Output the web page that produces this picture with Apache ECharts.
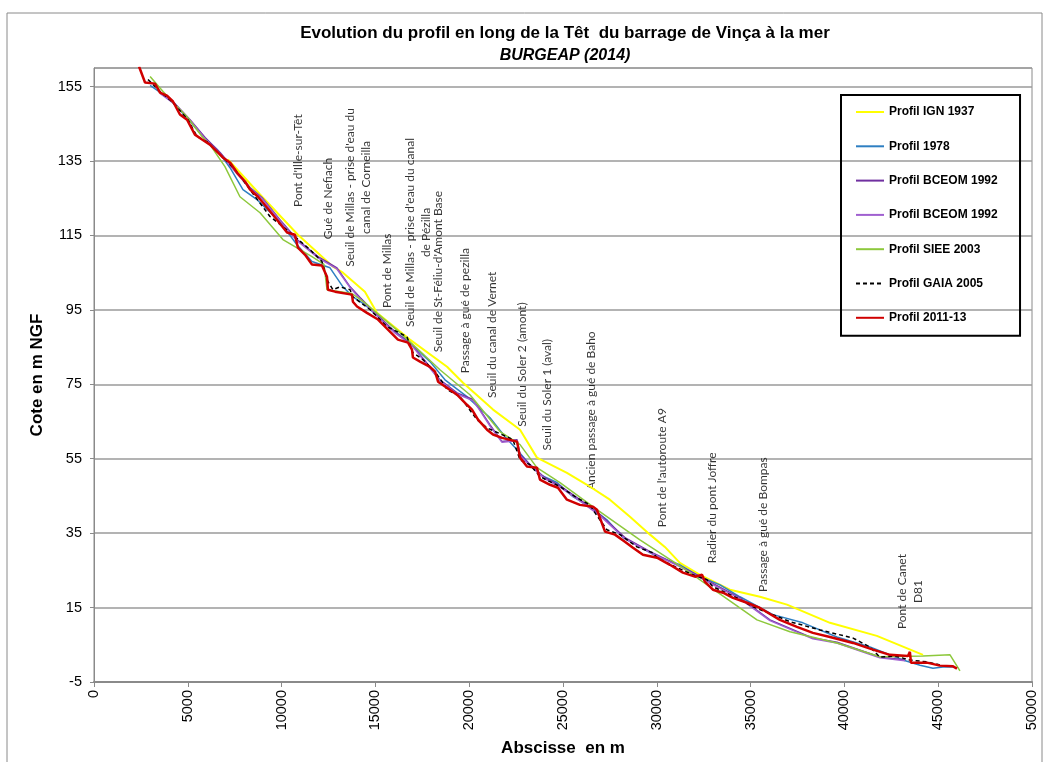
<!DOCTYPE html>
<html>
<head>
<meta charset="utf-8">
<title>Profil en long de la Têt</title>
<script src="https://cdn.jsdelivr.net/npm/echarts@6/dist/echarts.min.js"></script>
<style>
  html, body { margin: 0; padding: 0; background: #fff; }
  #chart { width: 1051px; height: 762px; }
</style>
</head>
<body>
<div id="chart"></div>
<script>
// Profil IGN 1937
const ignX = [7140, 8850, 10870, 12740, 13270, 14440, 15080, 16840, 18820, 19670, 21270, 22710, 23610, 25210, 26280, 27500, 28570, 29640, 30430, 31230, 32300, 33900, 35500, 36940, 39230, 41730, 44190];
const ignY = [135.4, 126.0, 115.2, 106.6, 105.0, 99.9, 94.2, 87.0, 79.7, 75.4, 68.2, 62.8, 55.3, 51.2, 48.0, 44.0, 39.4, 34.6, 31.3, 27.0, 23.8, 19.8, 17.9, 15.8, 10.9, 7.4, 2.3];
// Profil 1978
const p1978X = [2990, 3780, 4420, 5120, 5810, 6560, 7250, 7940, 8690, 9910, 10820, 11620, 12580, 13270, 13800, 14440, 15780, 16840, 17910, 18710, 19880, 21110, 21910, 22550, 23240, 23770, 24680, 25530, 26440, 27340, 28200, 29100, 30010, 31230, 32300, 33370, 34430, 36190, 37790, 39600, 41360, 43120, 44030, 44720, 45250, 45890];
const p1978Y = [155.3, 152.6, 149.6, 145.6, 141.6, 138.1, 133.2, 127.3, 124.6, 118.7, 112.5, 108.0, 106.3, 101.2, 98.5, 96.4, 90.2, 86.2, 81.1, 76.2, 71.7, 66.0, 60.9, 57.4, 53.4, 50.7, 48.6, 44.8, 42.1, 38.6, 33.8, 31.3, 28.7, 26.5, 23.3, 21.1, 17.9, 13.1, 10.9, 7.1, 4.4, 0.9, -0.5, -1.3, -1.0, -1.0];
// Profil BCEOM 1992 (a)
const bceomAX = [3520, 4320, 5120, 5920, 6720, 7620, 8320, 8950, 9910, 10820, 11940, 12950, 13650, 14180, 14980, 16040, 16950, 17800, 18440, 19350, 20200, 20570, 21110, 21750, 22550, 22710, 23240, 24040, 24840, 25900, 26970, 28300, 29640, 31230, 32830, 34430, 36030, 38320, 39600, 41890, 43230];
const bceomAY = [153.4, 150.4, 146.1, 141.3, 137.3, 131.9, 127.9, 125.2, 119.2, 113.9, 109.3, 106.3, 101.2, 98.3, 94.2, 89.1, 85.6, 80.3, 76.2, 72.7, 70.9, 68.2, 64.1, 59.6, 60.1, 56.1, 53.4, 49.9, 47.7, 44.0, 40.0, 33.8, 30.0, 26.2, 21.9, 17.6, 11.7, 6.8, 5.7, 1.7, 0.9];
// Profil BCEOM 1992 (b)
const bceomBX = [3520, 4320, 5120, 5920, 6720, 7620, 8320, 8950, 9910, 10820, 11940, 12950, 13650, 14180, 14980, 16040, 16950, 17800, 18440, 19350, 20200, 20570, 21110, 21750, 22550, 22710, 23240, 24040, 24840, 25900, 26970, 28300, 29640, 31230, 32830, 34430, 36030, 38320, 39600, 41890, 43230];
const bceomBY = [153.2, 150.2, 146.0, 141.0, 137.0, 131.6, 127.6, 125.0, 119.0, 113.6, 109.0, 106.0, 101.0, 98.0, 94.0, 88.8, 85.4, 80.0, 76.0, 72.4, 70.6, 68.0, 63.8, 59.4, 59.8, 55.8, 53.2, 49.6, 47.4, 43.7, 39.7, 33.5, 29.8, 26.0, 21.6, 17.4, 11.5, 6.6, 5.5, 1.5, 0.7];
// Profil SIEE 2003
const sieeX = [2990, 3680, 4210, 4960, 5760, 6180, 6980, 7780, 8850, 10070, 10980, 11620, 12260, 12420, 13750, 14440, 16310, 18440, 20040, 21640, 22710, 23610, 24840, 26810, 29100, 31390, 33210, 35340, 37100, 39600, 41890, 44190, 45630, 46160];
const sieeY = [157.7, 153.7, 150.7, 146.9, 141.6, 139.4, 133.5, 125.4, 121.1, 113.9, 111.2, 109.3, 107.2, 100.4, 99.4, 96.9, 88.9, 78.9, 72.2, 62.3, 58.8, 52.6, 48.6, 41.3, 33.2, 25.7, 19.2, 11.7, 8.5, 5.5, 1.8, 2.0, 2.3, -2.0];
// Profil GAIA 2005
const gaiaX = [2880, 3520, 4210, 5010, 5490, 6080, 6880, 7520, 8320, 9380, 10450, 11510, 12150, 12470, 12740, 13110, 13650, 13800, 14710, 15620, 16680, 17000, 17540, 18180, 18600, 18820, 19510, 20410, 20950, 22010, 22330, 22710, 23240, 23770, 24840, 25740, 26440, 26700, 27340, 28040, 28940, 29800, 30010, 30970, 31930, 32670, 32990, 34270, 35130, 36190, 37100, 38700, 40460, 41360, 41890, 42690, 43490, 44400, 45090];
const gaiaY = [156.9, 153.7, 150.7, 146.1, 141.6, 140.0, 135.9, 132.7, 127.3, 120.1, 115.8, 111.2, 108.0, 102.6, 100.4, 101.2, 100.4, 98.5, 95.1, 90.5, 87.8, 83.5, 81.6, 78.4, 75.4, 73.6, 71.7, 65.5, 63.3, 60.9, 60.1, 54.7, 53.4, 50.2, 47.5, 44.5, 42.6, 40.5, 35.9, 34.6, 31.3, 29.7, 28.4, 26.0, 23.8, 22.5, 20.6, 17.6, 15.2, 13.1, 11.2, 9.0, 6.8, 4.4, 1.7, 2.0, 0.9, 0.4, -0.4];
// Profil 2011-13
const p2011X = [2400, 2720, 3250, 3520, 3890, 4210, 4580, 4960, 5380, 5760, 6180, 6880, 7250, 7620, 8050, 8320, 8740, 9220, 9750, 10290, 10710, 10870, 11250, 11620, 12150, 12420, 12470, 12850, 13750, 13800, 14020, 14550, 15140, 15670, 16200, 16740, 16950, 17000, 17380, 17910, 18180, 18340, 18710, 19350, 19880, 20150, 20470, 20950, 21270, 21750, 22550, 22710, 23080, 23610, 23770, 24310, 24730, 25210, 25900, 26600, 26810, 27240, 27770, 28300, 28730, 29260, 30010, 30700, 31390, 32030, 32410, 32570, 32990, 33530, 34060, 34810, 35500, 36560, 37470, 38320, 39230, 40460, 41520, 42430, 43390, 43490, 43550, 44400, 45090, 45790, 46000];
const p2011Y = [160.4, 156.1, 155.8, 153.4, 152.6, 151.0, 147.5, 146.1, 142.1, 140.8, 139.4, 135.9, 134.6, 131.9, 129.5, 127.3, 125.4, 122.5, 119.2, 115.8, 115.2, 111.7, 109.8, 107.2, 106.9, 103.9, 100.4, 99.9, 99.1, 97.2, 95.9, 94.2, 92.4, 89.7, 87.0, 86.2, 84.3, 82.2, 81.1, 79.7, 78.4, 75.7, 74.4, 72.2, 69.5, 68.2, 65.5, 62.8, 61.5, 60.6, 59.6, 55.3, 52.9, 52.6, 49.4, 48.0, 47.2, 44.0, 42.6, 42.1, 41.3, 35.4, 34.6, 32.7, 31.1, 29.2, 28.4, 26.5, 24.4, 23.3, 23.8, 21.9, 19.8, 19.0, 17.6, 16.3, 14.9, 11.7, 9.8, 8.2, 7.1, 5.5, 3.7, 2.3, 2.0, 3.1, 0.2, 0.2, -0.6, -0.8, -1.4];

// Ouvrages (centre du texte)
const ouvrageNames = [
  "Pont d'Ille-sur-Têt",
  "Gué de Nefiach",
  "Seuil de Millas - prise d'eau du\ncanal de Corneilla",
  "Pont de Millas",
  "Seuil de Millas - prise d'eau du canal\nde Pézilla",
  "Seuil de St-Féliu-d'Amont Base",
  "Passage à gué de pezilla",
  "Seuil du canal de Vernet",
  "Seuil du Soler 2 (amont)",
  "Seuil du Soler 1 (aval)",
  "Ancien passage à gué de Baho",
  "Pont de l'autoroute A9",
  "Radier du pont Joffre",
  "Passage à gué de Bompas",
  "Pont de Canet\nD81"
];
const ouvrageX = [10870, 12470, 14070, 15620, 17270, 18340, 19770, 21210, 22810, 24150, 26490, 30270, 32940, 35660, 43490];
const ouvrageY = [135.1, 124.9, 127.9, 105.5, 115.8, 105.3, 94.8, 88.3, 80.3, 72.2, 67.9, 52.6, 41.8, 37.3, 19.3];

const legendNames = ["Profil IGN 1937", "Profil 1978", "Profil BCEOM 1992", "Profil BCEOM 1992 ", "Profil SIEE 2003", "Profil GAIA 2005", "Profil 2011-13"];

const pairs = (xs, ys) => xs.map((x, i) => [x, ys[i]]);

function profil(name, xs, ys, color, width, type) {
  return {
    name: name,
    type: "line",
    data: pairs(xs, ys),
    symbol: "none",
    lineStyle: { color: color, width: width, type: type || "solid" },
    itemStyle: { color: color },
    animation: false
  };
}

const chart = echarts.init(document.getElementById("chart"));
chart.setOption({
  backgroundColor: "#fff",
  title: [
    {
      text: "Evolution du profil en long de la Têt  du barrage de Vinça à la mer",
      left: 560, top: 20, textAlign: "center",
      textStyle: { fontFamily: "Liberation Sans", fontSize: 17, fontWeight: "bold", color: "#000" }
    },
    {
      text: "BURGEAP (2014)",
      left: 560, top: 43, textAlign: "center",
      textStyle: { fontFamily: "Liberation Sans", fontSize: 16, fontWeight: "bold", fontStyle: "italic", color: "#000" }
    }
  ],
  graphic: [
    {
      type: "rect",
      shape: { x: 7, y: 13, width: 1035, height: 770 },
      style: { fill: "none", stroke: "#8a8a8a", lineWidth: 1 },
      silent: true
    }
  ],
  grid: {
    left: 94, right: 19, top: 68, bottom: 80,
    show: true, borderColor: "#8a8a8a", borderWidth: 1
  },
  legend: {
    data: legendNames,
    orient: "vertical",
    left: 841, top: 95,
    itemWidth: 28, itemHeight: 14, itemGap: 22.3,
    padding: [11, 19, 12, 14],
    borderColor: "#000", borderWidth: 2,
    selectedMode: false,
    itemStyle: { opacity: 0 },
    textStyle: { fontFamily: "Liberation Sans", fontSize: 12, fontWeight: "bold", color: "#000" }
  },
  xAxis: {
    type: "value",
    min: 0, max: 50000, interval: 5000,
    name: "Abscisse  en m",
    nameLocation: "middle", nameGap: 58,
    nameTextStyle: { fontFamily: "Liberation Sans", fontSize: 17, fontWeight: "bold", color: "#000" },
    axisLine: { onZero: false, lineStyle: { color: "#8a8a8a", width: 2 } },
    axisTick: { show: true, length: 5, lineStyle: { color: "#8a8a8a" } },
    axisLabel: {
      rotate: 90, margin: 8, fontFamily: "Liberation Sans", fontSize: 14.5, color: "#000",
      formatter: (v) => String(v)
    },
    splitLine: { show: false }
  },
  yAxis: {
    type: "value",
    min: -5, max: 160, interval: 20,
    name: "Cote en m NGF",
    nameLocation: "middle", nameGap: 48,
    nameTextStyle: { fontFamily: "Liberation Sans", fontSize: 17, fontWeight: "bold", color: "#000" },
    axisLine: { show: true, lineStyle: { color: "#8a8a8a", width: 1 } },
    axisTick: { show: true, length: 4, lineStyle: { color: "#8a8a8a" } },
    axisLabel: { margin: 12, fontFamily: "Liberation Sans", fontSize: 14.5, color: "#000", showMaxLabel: false },
    splitLine: { lineStyle: { color: "#9a9a9a", width: 1.5 } }
  },
  series: [
    profil(legendNames[0], ignX, ignY, "#FFFF00", 2),
    profil(legendNames[1], p1978X, p1978Y, "#2E7FC2", 1.5),
    profil(legendNames[2], bceomAX, bceomAY, "#7030A0", 1.5),
    profil(legendNames[3], bceomBX, bceomBY, "#A060D0", 1.5),
    profil(legendNames[4], sieeX, sieeY, "#8DC83C", 1.5),
    profil(legendNames[5], gaiaX, gaiaY, "#000000", 1.5, [4, 3]),
    profil(legendNames[6], p2011X, p2011Y, "#D00000", 2.5),
    {
      name: "ouvrages",
      type: "scatter",
      symbolSize: 1,
      itemStyle: { color: "transparent" },
      silent: true,
      animation: false,
      data: ouvrageNames.map((n, i) => ({ name: n, value: [ouvrageX[i], ouvrageY[i]] })),
      label: {
        show: true,
        position: "inside",
        rotate: 90,
        align: "center",
        verticalAlign: "middle",
        formatter: "{b}",
        fontFamily: "Lato",
        fontSize: 12,
        lineHeight: 16,
        color: "#000"
      }
    }
  ]
});
</script>
</body>
</html>
